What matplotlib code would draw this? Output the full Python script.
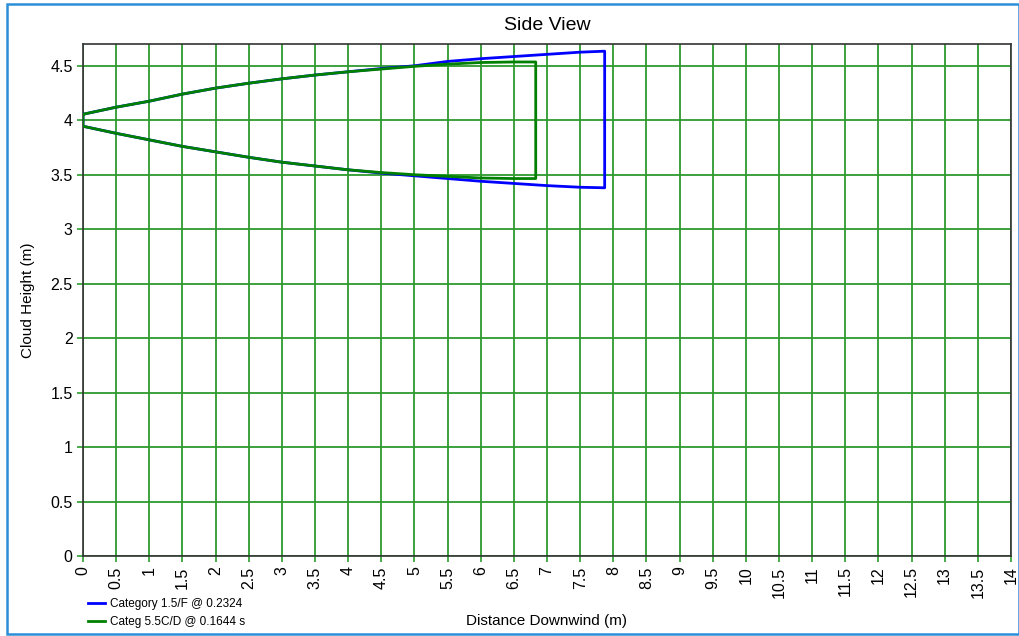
import matplotlib
matplotlib.use("Agg")
import matplotlib.pyplot as plt
from matplotlib.patches import Rectangle

plt.rcParams['font.family'] = ['Liberation Sans', 'DejaVu Sans']

# Series 1: Category 1.5/F
blue_x = [0, 0.5, 1, 1.5, 2, 2.5, 3, 3.5, 4, 4.5, 5, 5.5, 6, 6.5, 7, 7.5, 7.87]
blue_top = [4.055, 4.12, 4.175, 4.24, 4.295, 4.34, 4.38, 4.415, 4.445, 4.475,
            4.50, 4.54, 4.565, 4.585, 4.605, 4.625, 4.634]
blue_bot = [3.945, 3.88, 3.82, 3.76, 3.71, 3.66, 3.615, 3.58, 3.545, 3.515,
            3.49, 3.465, 3.44, 3.42, 3.40, 3.385, 3.38]

# Series 2: Categ 5.5C/D
green_x = [0, 0.5, 1, 1.5, 2, 2.5, 3, 3.5, 4, 4.5, 5, 5.5, 6, 6.5, 6.83]
green_top = [4.055, 4.12, 4.175, 4.24, 4.295, 4.34, 4.38, 4.415, 4.445, 4.47,
             4.495, 4.515, 4.53, 4.535, 4.535]
green_bot = [3.945, 3.88, 3.82, 3.76, 3.71, 3.66, 3.615, 3.58, 3.545, 3.52,
             3.50, 3.485, 3.47, 3.465, 3.465]

labels = ["Category 1.5/F @ 0.2324", "Categ 5.5C/D @ 0.1644 s"]
x_ticks = [i * 0.5 for i in range(29)]
y_ticks = [i * 0.5 for i in range(10)]

fig = plt.figure(figsize=(10.2, 6.36), dpi=100)
ax = fig.add_axes([83 / 1020, 1 - 556 / 636, (1011 - 83) / 1020, (556 - 44) / 636])

def outline(xs, top, bot):
    px = list(xs) + list(xs[::-1]) + [xs[0]]
    py = list(top) + list(bot[::-1]) + [top[0]]
    return px, py

bx, by = outline(blue_x, blue_top, blue_bot)
gx, gy = outline(green_x, green_top, green_bot)
l1, = ax.plot(bx, by, color='#0000ff', lw=2, zorder=3)
l2, = ax.plot(gx, gy, color='#008000', lw=2, zorder=4)

ax.set_xlim(0, 14)
ax.set_ylim(0, 4.7)
ax.set_xticks(x_ticks)
ax.set_xticklabels([f"{t:g}" for t in x_ticks], rotation=90)
ax.set_yticks(y_ticks)
ax.set_yticklabels([f"{t:g}" for t in y_ticks])
ax.tick_params(axis='both', labelsize=11.5, length=4, color='#2ca02c', width=1.2)
ax.grid(True, color='#2e9a2e', lw=1.3)
ax.set_axisbelow(True)
for s in ax.spines.values():
    s.set_color('#333333')
    s.set_linewidth(1.2)

fig.text(547 / 1020, 1 - 25 / 636, "Side View", ha='center', va='center', fontsize=14)
fig.text(547 / 1020, 1 - 621 / 636, "Distance Downwind (m)", ha='center', va='center', fontsize=11)
fig.text(28 / 1020, 1 - 300 / 636, "Cloud Height (m)", ha='center', va='center',
         rotation=90, fontsize=11)

fig.legend([l1, l2], labels, loc='upper left', bbox_to_anchor=(88 / 1020, 1 - 598 / 636),
           frameon=False, fontsize=8.5, handlelength=1.4, handletextpad=0.5,
           labelspacing=0.5, borderpad=0, borderaxespad=0)

fig.patches.append(Rectangle((7 / 1020, 2 / 636), 1012 / 1020, 630 / 636,
                             transform=fig.transFigure, fill=False,
                             edgecolor='#2d8fd8', lw=1.8))

fig.savefig("out.png", dpi=100)
